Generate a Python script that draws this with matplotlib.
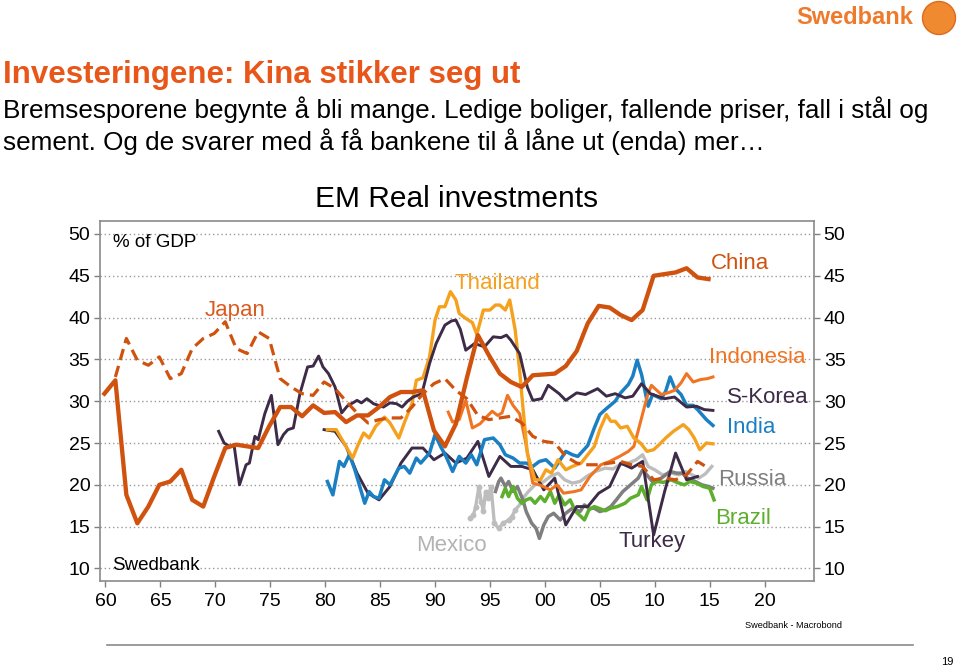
import numpy as np
import matplotlib
matplotlib.use("Agg")
import matplotlib.pyplot as plt
from matplotlib.patches import Ellipse

plt.rcParams['font.family'] = ['Liberation Sans', 'DejaVu Sans']

# ---- data (% of GDP) ----
# annual series, data year -> stamped at year end
china_years = list(range(1959, 2015))
china = [30.9, 32.5, 18.8, 15.4, 17.4, 20.0, 20.4, 21.8, 18.2, 17.4,
         21.0, 24.4, 24.8, 24.6, 24.4, 27.0, 29.3, 29.3, 28.2, 29.5,
         28.6, 28.7, 27.5, 28.3, 28.3, 29.3, 30.5, 31.1, 31.1, 31.3,
         26.5, 24.6, 27.3, 32.8, 37.9, 35.5, 33.3, 32.3, 31.7, 33.1,
         33.2, 33.3, 34.2, 36.0, 39.3, 41.4, 41.2, 40.3, 39.7, 40.9,
         45.0, 45.2, 45.4, 45.9, 44.8, 44.6]

japan_years = list(range(1960, 2015))
japan = [32.9, 37.5, 34.9, 34.3, 35.3, 32.7, 33.3, 36.3, 37.5, 38.1,
         39.5, 36.3, 35.7, 38.3, 37.5, 32.7, 31.7, 30.9, 30.7, 32.3,
         31.5, 30.0, 28.6, 27.4, 27.8, 28.0, 28.0, 29.3, 30.9, 32.1,
         32.7, 31.3, 30.3, 28.3, 27.8, 28.0, 28.2, 27.4, 25.8, 25.2,
         25.0, 23.4, 22.6, 22.4, 22.4, 22.6, 22.8, 22.4, 22.2, 20.6,
         20.8, 20.6, 21.2, 22.8, 22.0]

turkey_years = list(range(1979, 2014))
turkey = [26.6, 26.4, 24.6, 21.4, 19.0, 18.2, 19.8, 22.6, 24.4, 24.4,
          23.0, 23.8, 22.6, 23.2, 25.2, 21.0, 23.4, 22.2, 22.2, 21.8,
          19.4, 20.8, 15.2, 17.4, 17.4, 19.0, 19.8, 22.6, 22.0, 22.8,
          14.0, 19.2, 23.8, 20.6, 21.0]

# quarterly-ish series (decimal year, value)
korea_t = [1970.3, 1970.8, 1971.3, 1971.7, 1972.2, 1972.8, 1973.1, 1973.6, 1973.9, 1974.5,
           1975.1, 1975.7, 1976.2, 1976.6, 1977.1, 1977.7, 1978.4, 1978.9, 1979.4, 1979.8,
           1980.3, 1980.9, 1981.5, 1982.0, 1982.9, 1983.3, 1983.8, 1984.4, 1985.3, 1985.9,
           1986.5, 1987.0, 1987.5, 1988.0, 1988.8, 1989.5, 1990.1, 1990.9, 1991.5, 1991.9,
           1992.3, 1992.8, 1993.6, 1994.5, 1995.3, 1996.0, 1996.5, 1996.9, 1997.7, 1998.4,
           1998.9, 1999.7, 2000.3, 2001.3, 2001.9, 2002.9, 2003.7, 2004.8, 2005.6, 2006.4,
           2007.3, 2008.0, 2008.8, 2009.6, 2010.9, 2011.8, 2012.9, 2013.8, 2014.5, 2015.3]
korea = [26.4, 25.0, 24.6, 24.8, 20.0, 22.4, 22.6, 25.8, 25.4, 28.5,
         30.7, 24.8, 26.0, 26.6, 26.8, 30.9, 34.1, 34.2, 35.4, 34.1,
         33.3, 31.7, 28.6, 29.4, 30.1, 29.8, 30.3, 29.7, 29.3, 29.8,
         29.7, 29.3, 30.0, 30.5, 30.9, 34.5, 36.9, 39.1, 39.6, 39.7,
         38.6, 36.1, 36.9, 36.5, 37.7, 37.6, 37.9, 37.3, 35.7, 31.7,
         30.1, 30.3, 31.9, 30.9, 30.1, 31.0, 30.8, 31.5, 30.6, 30.9,
         30.4, 30.6, 32.1, 30.9, 30.3, 30.5, 29.3, 29.4, 29.0, 28.9]

india_t = [1980.2, 1980.7, 1981.3, 1981.7, 1982.2, 1982.7, 1983.6, 1984.0, 1984.4, 1984.9,
           1985.4, 1985.9, 1986.7, 1987.2, 1987.7, 1988.3, 1988.7, 1989.5, 1990.0, 1990.5,
           1991.0, 1991.6, 1992.2, 1992.8, 1993.3, 1993.8, 1994.5, 1995.3, 1995.9, 1996.4,
           1997.1, 1997.7, 1998.3, 1998.9, 1999.5, 2000.1, 2000.9, 2001.6, 2001.9, 2002.5,
           2003.0, 2003.9, 2004.5, 2005.0, 2005.5, 2006.4, 2006.9, 2007.6, 2008.0, 2008.4,
           2008.8, 2009.4, 2009.8, 2010.6, 2011.0, 2011.4, 2011.8, 2012.4, 2012.9, 2013.5,
           2013.9, 2014.7, 2015.3]
india = [20.4, 18.8, 22.8, 22.2, 23.6, 21.8, 17.8, 19.2, 18.6, 18.4,
         20.6, 20.0, 22.0, 22.2, 21.4, 23.2, 22.6, 23.8, 26.0, 24.6,
         23.4, 21.6, 23.4, 22.6, 23.6, 22.4, 25.4, 25.6, 24.8, 23.6,
         23.2, 22.6, 22.6, 22.2, 22.8, 23.0, 22.0, 23.4, 24.0, 23.6,
         23.4, 24.7, 26.8, 28.4, 29.0, 30.0, 31.0, 32.0, 33.0, 34.9,
         33.2, 29.4, 30.8, 30.3, 31.2, 32.9, 31.6, 30.8, 29.5, 29.5,
         29.0, 27.8, 27.1]

thai_t = [1980.2, 1981.0, 1981.8, 1982.5, 1983.0, 1983.5, 1984.0, 1984.6, 1985.4, 1985.9,
          1986.7, 1987.2, 1987.9, 1988.3, 1988.9, 1989.5, 1990.0, 1990.4, 1990.9, 1991.4,
          1991.9, 1992.2, 1992.8, 1993.4, 1993.8, 1994.4, 1995.0, 1995.5, 1995.9, 1996.4,
          1996.8, 1997.3, 1997.7, 1998.0, 1998.4, 1999.1, 1999.6, 2000.1, 2000.6, 2001.2,
          2001.9, 2002.5, 2003.3, 2003.9, 2004.5, 2005.0, 2005.6, 2006.0, 2006.4, 2006.9,
          2007.5, 2008.1, 2008.7, 2009.3, 2009.9, 2010.4, 2011.0, 2011.7, 2012.6, 2013.1,
          2013.6, 2014.1, 2014.7, 2015.3]
thai = [26.6, 26.6, 24.8, 23.2, 24.8, 26.2, 25.6, 27.0, 28.1, 27.4,
        25.6, 27.4, 29.7, 32.5, 32.8, 35.3, 39.7, 41.3, 41.3, 43.1,
        42.1, 40.5, 39.9, 39.4, 38.0, 40.9, 40.9, 41.5, 41.5, 40.9,
        42.1, 38.5, 33.7, 29.3, 23.8, 20.6, 20.6, 21.8, 21.4, 23.0,
        21.8, 22.2, 22.6, 23.6, 24.6, 26.6, 28.4, 27.6, 27.6, 26.8,
        27.0, 25.6, 25.0, 24.0, 24.2, 24.8, 25.6, 26.4, 27.2, 26.6,
        25.6, 24.2, 25.0, 24.9]

indo_t = [1991.2, 1991.6, 1992.2, 1992.8, 1993.4, 1994.1, 1994.6, 1995.2, 1995.7, 1996.1,
          1996.6, 1997.1, 1997.7, 1998.2, 1998.9, 1999.5, 2000.5, 2001.1, 2001.7, 2002.7,
          2003.3, 2004.1, 2005.1, 2005.9, 2006.8, 2007.6, 2008.1, 2008.5, 2008.9, 2009.3,
          2009.7, 2010.6, 2011.2, 2011.8, 2012.4, 2012.9, 2013.5, 2014.2, 2014.8, 2015.3]
indo = [28.7, 27.5, 27.8, 30.1, 26.8, 27.3, 28.0, 28.8, 28.3, 28.6,
        30.7, 29.5, 28.5, 25.4, 20.2, 20.0, 19.4, 20.0, 19.0, 19.2,
        19.4, 21.0, 22.4, 22.8, 23.4, 24.0, 24.6, 26.5, 28.5, 30.5,
        31.9, 30.8, 31.0, 31.3, 32.2, 33.3, 32.3, 32.6, 32.7, 32.9]

mex_t = [1993.2, 1993.5, 1993.7, 1994.0, 1994.2, 1994.4, 1994.6, 1994.8, 1995.1, 1995.4,
         1995.8, 1996.2, 1996.7, 1997.0, 1997.3, 1997.7, 1998.0, 1998.5, 1999.1, 1999.7,
         2000.5, 2001.2, 2001.8, 2002.5, 2003.2, 2003.8, 2004.6, 2005.5, 2006.2, 2006.8,
         2007.6, 2008.3, 2008.9, 2009.4, 2010.0, 2010.7, 2011.5, 2012.2, 2012.8, 2013.4,
         2014.0, 2014.6, 2015.2]
mexico = [16.0, 16.4, 17.4, 19.8, 18.0, 16.9, 19.2, 18.4, 19.8, 15.4,
          14.8, 15.4, 15.8, 16.2, 17.0, 17.6, 18.4, 19.2, 20.0, 20.2,
          21.0, 21.4, 20.6, 20.2, 20.4, 21.0, 21.6, 22.0, 21.9, 22.4,
          22.6, 23.0, 23.6, 22.2, 21.8, 21.2, 21.4, 21.2, 21.6, 21.2,
          20.8, 21.3, 22.2]

russia_t = [1995.5, 1995.8, 1996.0, 1996.4, 1996.7, 1997.1, 1997.5, 1998.0, 1998.3, 1998.8,
            1999.2, 1999.5, 1999.9, 2000.3, 2000.8, 2001.4, 2001.9, 2002.5, 2003.2, 2003.6,
            2004.0, 2004.5, 2005.0, 2005.5, 2006.0, 2006.5, 2007.1, 2007.8, 2008.5, 2008.9,
            2009.4, 2009.9, 2010.6, 2011.4, 2012.0, 2012.5, 2013.0, 2013.7, 2014.3, 2014.9,
            2015.3]
russia = [19.2, 20.4, 20.8, 19.8, 20.4, 19.2, 19.8, 18.2, 16.8, 15.4,
          14.8, 13.6, 15.2, 16.2, 16.6, 15.8, 16.6, 17.2, 16.8, 17.6,
          17.2, 17.2, 16.8, 17.0, 17.4, 18.2, 19.2, 20.0, 20.8, 21.8,
          21.0, 20.2, 20.8, 21.6, 21.4, 21.4, 20.8, 20.4, 20.0, 19.8,
          19.6]

brazil_t = [1996.1, 1996.4, 1996.7, 1997.1, 1997.5, 1997.9, 1998.3, 1998.7, 1999.1, 1999.6,
            2000.0, 2000.5, 2000.9, 2001.3, 2001.8, 2002.3, 2002.8, 2003.3, 2003.6, 2004.0,
            2004.5, 2004.9, 2005.5, 2006.0, 2006.6, 2007.3, 2007.8, 2008.5, 2008.8, 2009.3,
            2009.7, 2010.2, 2010.8, 2011.5, 2012.0, 2012.7, 2013.2, 2013.8, 2014.4, 2015.0,
            2015.4]
brazil = [18.6, 19.6, 18.6, 19.8, 18.4, 17.8, 18.2, 18.4, 17.8, 18.6,
          18.0, 19.2, 17.8, 18.8, 17.6, 18.2, 16.8, 16.2, 15.8, 17.0,
          17.4, 17.2, 16.9, 17.2, 17.4, 17.8, 18.4, 18.8, 19.8, 18.2,
          20.0, 20.4, 20.3, 20.6, 20.3, 20.0, 20.4, 20.2, 19.8, 19.6,
          18.2]

# colours
c_china = '#D0520F'
c_thai = '#F5A11E'
c_indo = '#F07522'
c_purple = '#3D2B47'
c_india = '#1B80C3'
c_russia = '#7F7F7F'
c_mexico = '#BDBDBD'
c_brazil = '#5DAE2D'

fig = plt.figure(figsize=(9.6, 6.69), dpi=100)
ax = fig.add_axes([100 / 960, 1 - 581 / 669, 714 / 960, 360 / 669])

ax.plot(mex_t, mexico, color=c_mexico, lw=2.4, marker='o', ms=3.2,
        markevery=[t < 1997.5 for t in mex_t], zorder=2)
ax.plot(russia_t, russia, color=c_russia, lw=2.5, zorder=2)
ax.plot(brazil_t, brazil, color=c_brazil, lw=2.5, zorder=2)
# annual data stamped at year end
ax.plot(np.array(turkey_years) + 0.9, turkey, color=c_purple, lw=2.1, zorder=3)
ax.plot(india_t, india, color=c_india, lw=2.5, zorder=3)
ax.plot(indo_t, indo, color=c_indo, lw=2.2, zorder=3)
ax.plot(thai_t, thai, color=c_thai, lw=2.4, zorder=3)
ax.plot(korea_t, korea, color=c_purple, lw=2.1, zorder=4)
ax.plot(np.array(japan_years) + 0.9, japan, color=c_china, lw=2.3,
        dashes=(3.6, 1.9), zorder=4)
ax.plot(np.array(china_years) + 0.9, china, color=c_china, lw=3.1, zorder=5)

ax.set_xlim(1959.5, 2024.5)
ax.set_ylim(8.5, 51.55)

xt = list(range(1960, 2021, 5))
ax.set_xticks(xt)
ax.set_xticklabels(['%02d' % (y % 100) for y in xt])
ax.set_yticks(range(10, 51, 5))
ax.yaxis.grid(True, color='#9A9A9A', linestyle=(0, (1, 2)), lw=1)
ax.set_axisbelow(True)

ax.tick_params(axis='both', labelsize=14, color='#808080', length=4, width=1)
ax.tick_params(axis='y', right=True, labelright=True, pad=3)
ax.tick_params(axis='x', pad=5)
for s in ax.spines.values():
    s.set_color('#8A8A8A')
    s.set_linewidth(1.2)

ax.set_title('EM Real investments', fontsize=21.5, pad=10)

# series labels
ax.text(1960.7, 49.0, '% of GDP', fontsize=13.5, va='center')
ax.text(1960.6, 10.3, 'Swedbank', fontsize=13.5, va='center')
lab = dict(fontsize=16, va='center', ha='left')
ax.text(1969.0, 40.8, 'Japan', color='#DD5A1E', **lab)
ax.text(1991.8, 44.1, 'Thailand', color=c_thai, **lab)
ax.text(2015.1, 46.5, 'China', color=c_china, **lab)
ax.text(2014.9, 35.2, 'Indonesia', color=c_indo, **lab)
ax.text(2016.6, 30.4, 'S-Korea', color=c_purple, **lab)
ax.text(2016.6, 26.9, 'India', color=c_india, **lab)
ax.text(2015.8, 20.6, 'Russia', color=c_russia, **lab)
ax.text(2015.5, 16.0, 'Brazil', color=c_brazil, **lab)
ax.text(2006.7, 13.2, 'Turkey', color=c_purple, **lab)
ax.text(1988.3, 12.8, 'Mexico', color='#B3B3B3', **lab)

# slide texts
fig.text(3 / 960, 1 - 83 / 669, 'Investeringene: Kina stikker seg ut', fontsize=22.5,
         fontweight='bold', color='#E8561A', va='baseline')
fig.text(3 / 960, 1 - 118 / 669,
         'Bremsesporene begynte å bli mange. Ledige boliger, fallende priser, fall i stål og',
         fontsize=18.8, va='baseline')
fig.text(3 / 960, 1 - 150 / 669,
         'sement. Og de svarer med å få bankene til å låne ut (enda) mer…',
         fontsize=18.8, va='baseline')

# logo
fig.text(796 / 960, 1 - 18 / 669, 'Swedbank', fontsize=17, fontweight='bold',
         color='#EE7A2C', va='center')
fig.patches.append(Ellipse((939 / 960, 1 - 18 / 669), 33 / 960, 33 / 669,
                           facecolor='#F08A30', edgecolor='#DE6A1C', lw=1,
                           transform=fig.transFigure, figure=fig))

# footer
fig.text(745 / 960, 1 - 625 / 669, 'Swedbank - Macrobond', fontsize=6.6, va='center')
fig.add_artist(plt.Line2D([107 / 960, 913 / 960], [1 - 644.5 / 669, 1 - 644.5 / 669],
                          color='#8A8A8A', lw=1.2))
fig.text(941 / 960, 1 - 662 / 669, '19', fontsize=8, va='center')

fig.savefig('out.png', dpi=100)
